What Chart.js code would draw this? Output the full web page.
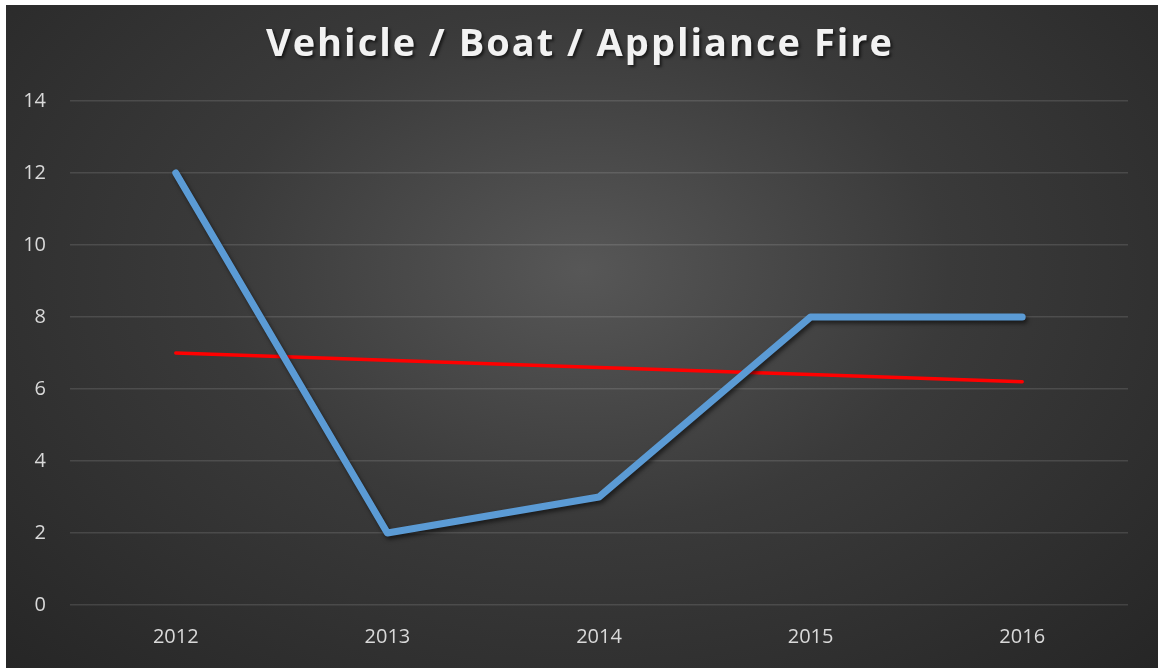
<!DOCTYPE html>
<html>
<head>
<meta charset="utf-8">
<script src="https://cdn.jsdelivr.net/npm/chart.js@4.4.0/dist/chart.umd.min.js"></script>
<style>
  html, body { margin: 0; padding: 0; background: #ffffff; }
  #wrap {
    position: absolute; left: 6px; top: 5px; width: 1152px; height: 663px;
    background: radial-gradient(ellipse farthest-corner at 50% 40%, #575757 0%, #3a3a3a 45%, #262626 100%);
  }
</style>
</head>
<body>
<div id="wrap"><canvas id="fireChart" width="1152" height="663"></canvas></div>
<script>
const chartTitle = 'Vehicle / Boat / Appliance Fire';
const years = ['2012', '2013', '2014', '2015', '2016'];
const fireCounts = [12, 2, 3, 8, 8];
const trendValues = [7, 6.8, 6.6, 6.4, 6.2];

// title drawn by hand so we get letter spacing + shadow
const titlePlugin = {
  id: 'shadowTitle',
  afterDraw(chart) {
    const ctx = chart.ctx;
    ctx.save();
    ctx.font = 'bold 38px "Open Sans"';
    if ('letterSpacing' in ctx) ctx.letterSpacing = '2px';
    ctx.fillStyle = '#f2f2f2';
    ctx.textAlign = 'center';
    ctx.textBaseline = 'middle';
    ctx.shadowColor = 'rgba(0,0,0,0.6)';
    ctx.shadowOffsetX = 2;
    ctx.shadowOffsetY = 2;
    ctx.shadowBlur = 3;
    ctx.fillText(chartTitle, chart.width / 2 - 2, 40);
    ctx.restore();
  },
};

const lineShadow = {
  id: 'lineShadow',
  beforeDatasetDraw(chart, args) {
    const ctx = chart.ctx;
    ctx.save();
    if (args.index === 0) {
      ctx.shadowColor = 'rgba(0,0,0,0.55)';
      ctx.shadowOffsetX = 2;
      ctx.shadowOffsetY = 3;
      ctx.shadowBlur = 4;
    }
  },
  afterDatasetDraw(chart) {
    chart.ctx.restore();
  },
};

const config = {
  type: 'line',
  data: {
    labels: years,
    datasets: [
      {
        label: 'Vehicle / Boat / Appliance Fire',
        data: fireCounts,
        borderColor: '#5b9bd5',
        borderWidth: 7,
        borderCapStyle: 'round',
        borderJoinStyle: 'round',
        pointRadius: 0,
        tension: 0,
        fill: false,
      },
      {
        label: 'Linear trend',
        data: trendValues,
        borderColor: '#ff0000',
        borderWidth: 3.5,
        borderCapStyle: 'round',
        pointRadius: 0,
        tension: 0,
        fill: false,
      },
    ],
  },
  options: {
    responsive: false,
    animation: false,
    layout: { padding: { top: 96, right: 30, left: 6, bottom: 0 } },
    plugins: {
      legend: { display: false },
      tooltip: { enabled: false },
      title: { display: false },
    },
    scales: {
      x: {
        offset: true,
        grid: { display: false, drawTicks: false },
        border: { display: false },
        ticks: { color: '#d9d9d9', font: { family: '"Open Sans"', size: 20 }, padding: 20 },
        afterFit(scale) { scale.height = 63; },
      },
      y: {
        min: 0,
        max: 14,
        ticks: { stepSize: 2, color: '#d9d9d9', font: { family: '"Open Sans"', size: 20 }, padding: 24 },
        grid: { color: 'rgba(255,255,255,0.12)', lineWidth: 1.5, drawTicks: false },
        border: { display: false },
        afterFit(scale) { scale.width = 58; },
      },
    },
  },
  plugins: [lineShadow, titlePlugin],
};

const chart = new Chart('fireChart', config);
</script>
</body>
</html>
